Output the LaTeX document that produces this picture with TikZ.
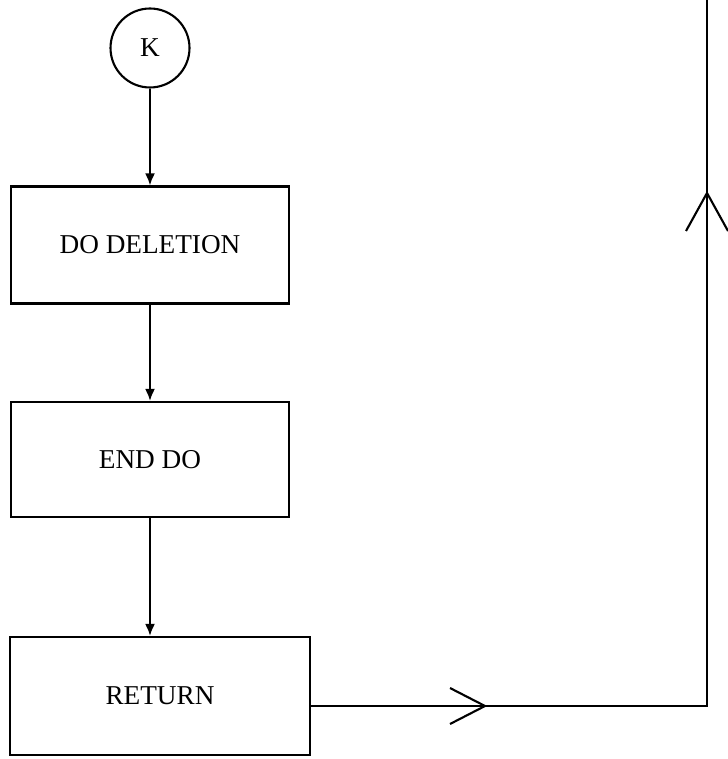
\documentclass[tikz,border=0pt]{standalone}
\usepackage{fontspec}
\setmainfont{Liberation Serif}
\usetikzlibrary{arrows.meta}

\tikzset{
 procbox/.style={draw,line width=1.2pt,minimum width=5.56cm,minimum height=2.34cm,
  font=\fontsize{15.5}{18}\selectfont},
 flow/.style={line width=1.2pt,-{Latex[length=2.4mm,width=2mm]}}
}

\begin{document}
\begin{tikzpicture}[x=0.02cm,y=-0.02cm]
 \useasboundingbox (0,0) rectangle (727,759);
 \node[circle,draw,line width=1.2pt,minimum size=1.58cm,inner sep=0pt,
  font=\fontsize{15.5}{18}\selectfont] (k) at (150,48) {K};
 \node[procbox] (del) at (150,245) {DO DELETION};
 \node[procbox,minimum height=2.3cm] (enddo) at (150,459.5) {END DO};
 \node[procbox,minimum width=6cm,minimum height=2.36cm] (ret) at (160,696) {RETURN};
 \draw[flow] (k) -- (del);
 \draw[flow] (del) -- (enddo);
 \draw[flow] (enddo) -- (ret.north -| enddo);
 % loop back up the right side
 \coordinate (corner) at (707,706);
 \coordinate (top) at (707,0);
 \draw[line width=1.2pt] (ret.east |- corner) -- (corner) -- (top);
 \draw[line width=1.2pt] (450,688) -- (485,706) -- (450,724);
 \draw[line width=1.2pt] (686,231) -- (707,193) -- (728,231);
\end{tikzpicture}
\end{document}
